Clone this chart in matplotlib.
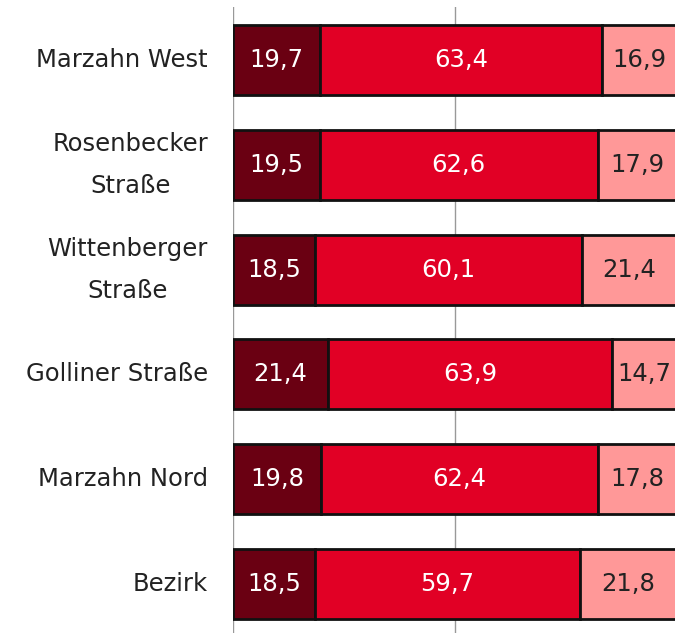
import matplotlib
matplotlib.use("Agg")
import matplotlib.pyplot as plt
import numpy as np

categories = ["Marzahn West", "Rosenbecker\nStraße", "Wittenberger\nStraße",
              "Golliner Straße", "Marzahn Nord", "Bezirk"]
seg1 = [19.7, 19.5, 18.5, 21.4, 19.8, 18.5]
seg2 = [63.4, 62.6, 60.1, 63.9, 62.4, 59.7]
seg3 = [16.9, 17.9, 21.4, 14.7, 17.8, 21.8]

colors = ["#6a0012", "#e10025", "#ff9898"]
text_colors = ["white", "white", "#222222"]

plt.rcParams['font.family'] = ['DejaVu Sans']

fig = plt.figure(figsize=(6.75, 6.33), dpi=100)
ax = fig.add_axes([233/675, -0.0055, 444/675, 0.9937])

y = np.arange(len(categories))
left = np.zeros(len(categories))
for vals, c, tc in zip([seg1, seg2, seg3], colors, text_colors):
    vals = np.array(vals)
    ax.barh(y, vals, left=left, height=0.667, color=c, edgecolor="#111111",
            linewidth=2, zorder=3)
    for yi, l, v in zip(y, left, vals):
        ax.text(l + v / 2, yi, f"{v:.1f}".replace(".", ","), ha="center",
                va="center", color=tc, fontsize=17.5, zorder=4)
    left = left + vals

ax.set_xlim(0, 100)
ax.set_ylim(len(categories) - 0.5, -0.5)
ax.set_xticks([0, 50, 100])
ax.xaxis.grid(True, color="#999999", linewidth=1, zorder=0)
ax.tick_params(axis="x", length=0, labelbottom=False)
ax.set_yticks(y)
ax.set_yticklabels(categories, fontsize=17.5, color="#222222",
                   multialignment="center", linespacing=1.95)
for lab in ax.get_yticklabels():
    lab.set_verticalalignment("center")
ax.tick_params(axis="y", length=0, pad=18)
for s in ax.spines.values():
    s.set_visible(False)

fig.savefig("out.png", dpi=100)
